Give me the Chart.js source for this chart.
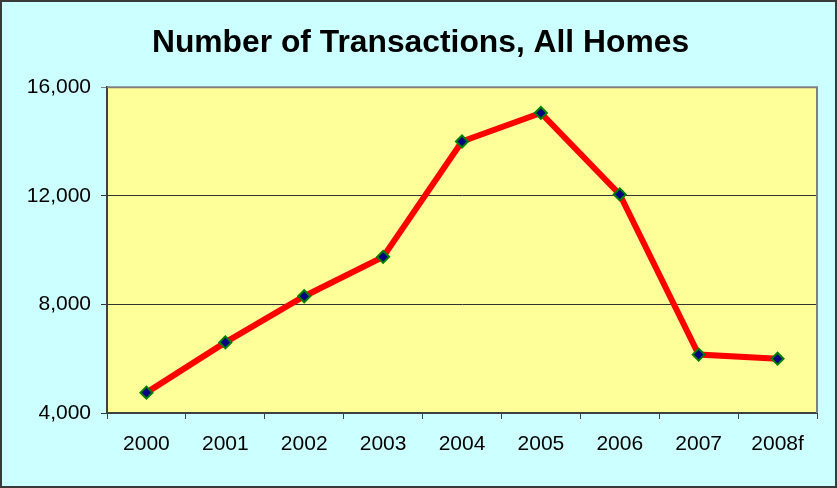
<!DOCTYPE html>
<html>
<head>
<meta charset="utf-8">
<title>Number of Transactions, All Homes</title>
<script src="https://cdn.jsdelivr.net/npm/chart.js@4"></script>
<style>
  html, body { margin: 0; padding: 0; background: #CCFFFF; }
  canvas { display: block; }
</style>
</head>
<body>
<canvas id="myChart" width="837" height="488"></canvas>
<script>
// chart data
const years = ['2000', '2001', '2002', '2003', '2004', '2005', '2006', '2007', '2008f'];
const transactions = [4750, 6600, 8300, 9750, 14000, 15050, 12050, 6150, 6000];
const yTicks = [4000, 8000, 12000, 16000];

const FONT = "'Liberation Sans', Arial, sans-serif";

// paints the page and plot backgrounds plus the frame lines
const backdrop = {
  id: 'backdrop',
  afterLayout(chart) {
    // title sits centred on the whole picture, not the padded box
    const t = chart.titleBlock;
    if (t) {
      t.left += 12;
      t.right += 12;
    }
  },
  beforeDraw(chart) {
    const ctx = chart.ctx;
    const a = chart.chartArea;
    ctx.save();
    ctx.fillStyle = '#CCFFFF';
    ctx.fillRect(0, 0, chart.width, chart.height);
    ctx.strokeStyle = '#3a3a3a';
    ctx.lineWidth = 2;
    ctx.strokeRect(1, 1, chart.width - 2, chart.height - 2);
    ctx.fillStyle = '#FFFF99';
    ctx.fillRect(a.left, a.top, a.right - a.left, a.bottom - a.top);
    ctx.restore();
  },
  beforeDatasetsDraw(chart) {
    const ctx = chart.ctx;
    const a = chart.chartArea;
    ctx.save();
    ctx.strokeStyle = '#808080';
    ctx.lineWidth = 2;
    ctx.beginPath();
    ctx.moveTo(a.left, a.top);
    ctx.lineTo(a.right, a.top);
    ctx.lineTo(a.right, a.bottom);
    ctx.stroke();
    ctx.restore();
  }
};

const ctx = document.getElementById('myChart').getContext('2d');
const chart = new Chart(ctx, {
  type: 'line',
  data: {
    labels: years,
    datasets: [{
      label: 'Transactions',
      data: transactions,
      borderColor: '#FF0000',
      borderWidth: 6,
      tension: 0,
      pointStyle: 'rectRot',
      pointRadius: 6,
      pointBackgroundColor: '#000080',
      pointBorderColor: '#008000',
      pointBorderWidth: 2
    }]
  },
  options: {
    responsive: false,
    animation: false,
    devicePixelRatio: 1,
    layout: { padding: { left: 0, right: 20, top: 0, bottom: 0 } },
    plugins: {
      legend: { display: false },
      tooltip: { enabled: false },
      title: {
        display: true,
        text: 'Number of Transactions, All Homes',
        color: '#000000',
        font: { family: FONT, size: 31.8, weight: 'bold' },
        padding: { top: 24, bottom: 25 }
      }
    },
    scales: {
      x: {
        offset: true,
        grid: {
          offset: true,
          drawOnChartArea: false,
          tickLength: 6,
          color: '#404040'
        },
        border: { color: '#404040', width: 2 },
        ticks: {
          color: '#000000',
          font: { family: FONT, size: 21 },
          padding: 13,
          maxRotation: 0
        },
        afterFit(scale) { scale.height = 75; }
      },
      y: {
        min: 4000,
        max: 16000,
        afterBuildTicks(scale) {
          scale.ticks = yTicks.map(v => ({ value: v }));
        },
        grid: {
          tickLength: 6,
          color: ctx => (ctx.tick && ctx.tick.value === 16000 ? '#808080' : '#333333'),
          lineWidth: 1
        },
        border: { color: '#404040', width: 2 },
        ticks: {
          color: '#000000',
          font: { family: FONT, size: 21 },
          padding: 10,
          callback: v => v.toLocaleString('en-US')
        },
        afterFit(scale) { scale.width = 107; }
      }
    }
  },
  plugins: [backdrop]
});
</script>
</body>
</html>
